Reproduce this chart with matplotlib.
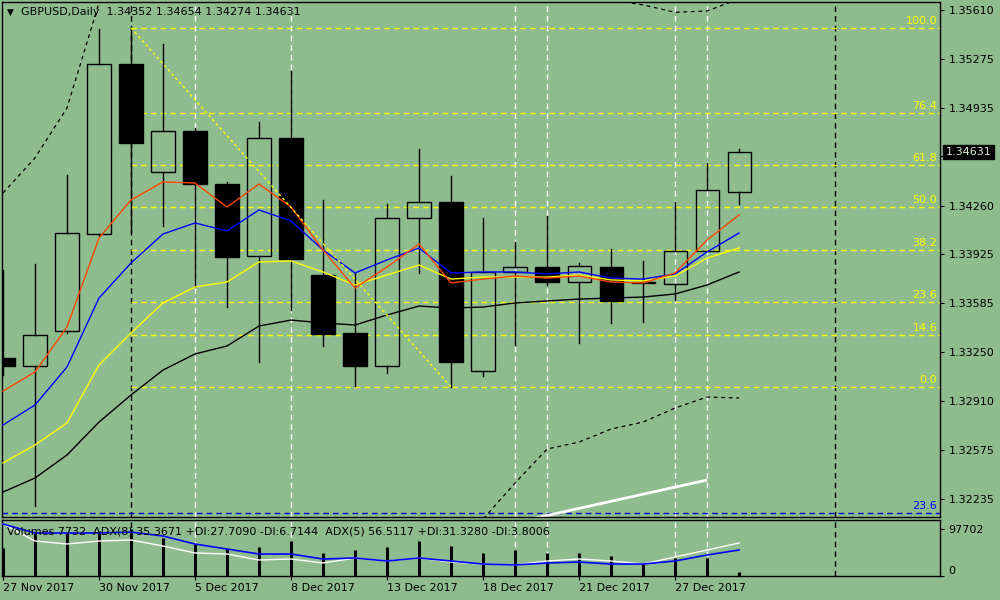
import matplotlib
matplotlib.use('Agg')
import matplotlib.pyplot as plt
import numpy as np
import pandas as pd
from matplotlib.patches import Rectangle
from matplotlib.transforms import blended_transform_factory

nan = np.nan

# ---------------- data ----------------
dates = ['2017-11-27', '2017-11-28', '2017-11-29', '2017-11-30', '2017-12-01',
         '2017-12-04', '2017-12-05', '2017-12-06', '2017-12-07', '2017-12-08',
         '2017-12-11', '2017-12-12', '2017-12-13', '2017-12-14', '2017-12-15',
         '2017-12-18', '2017-12-19', '2017-12-20', '2017-12-21', '2017-12-22',
         '2017-12-26', '2017-12-27', '2017-12-28', '2017-12-29']

opens = [1.33208, 1.33153, 1.33395, 1.34064, 1.35237, 1.34492, 1.34775, 1.34409,
         1.33912, 1.34727, 1.33781, 1.33381, 1.33153, 1.34174, 1.34285, 1.33118,
         1.33802, 1.33836, 1.33733, 1.33836, 1.33726, 1.33719, 1.33947, 1.34352]
highs = [1.33815, 1.33857, 1.34471, 1.35479, 1.35486, 1.35375, 1.34796, 1.34423,
         1.34837, 1.35189, 1.34299, 1.33795, 1.34271, 1.34651, 1.34464, 1.34174,
         1.34009, 1.34188, 1.33864, 1.33960, 1.33878, 1.34285, 1.34554, 1.34654]
lows = [1.33091, 1.32187, 1.33381, 1.34050, 1.34078, 1.34119, 1.33698, 1.33560,
        1.33181, 1.33539, 1.33291, 1.33015, 1.33105, 1.33795, 1.33008, 1.33084,
        1.33298, 1.33712, 1.33312, 1.33450, 1.33457, 1.33608, 1.33947, 1.34274]
closes = [1.33153, 1.33367, 1.34071, 1.35237, 1.34692, 1.34775, 1.34409, 1.33905,
          1.34727, 1.33891, 1.33374, 1.33153, 1.34174, 1.34285, 1.33181, 1.33802,
          1.33836, 1.33733, 1.33843, 1.33602, 1.33730, 1.33947, 1.34368, 1.34631]

ma_red = [1.32980, 1.33112, 1.33422, 1.34036, 1.34299, 1.34423, 1.34416, 1.34250,
          1.34409, 1.34250, 1.33954, 1.33691, 1.33836, 1.33995, 1.33726, 1.33753,
          1.33774, 1.33760, 1.33774, 1.33733, 1.33726, 1.33795, 1.34023, 1.34195]
ma_blue = [1.32746, 1.32884, 1.33146, 1.33622, 1.33864, 1.34064, 1.34140, 1.34085,
           1.34230, 1.34154, 1.33954, 1.33795, 1.33885, 1.33967, 1.33795, 1.33802,
           1.33802, 1.33788, 1.33802, 1.33760, 1.33753, 1.33788, 1.33940, 1.34071]
ma_yellow = [1.32484, 1.32608, 1.32760, 1.33160, 1.33381, 1.33588, 1.33698, 1.33733,
             1.33871, 1.33878, 1.33802, 1.33712, 1.33781, 1.33850, 1.33753, 1.33767,
             1.33767, 1.33767, 1.33781, 1.33747, 1.33740, 1.33774, 1.33898, 1.33967]
ma_black = [1.32283, 1.32380, 1.32539, 1.32766, 1.32953, 1.33125, 1.33236, 1.33291,
            1.33429, 1.33470, 1.33450, 1.33436, 1.33505, 1.33567, 1.33553, 1.33560,
            1.33588, 1.33602, 1.33615, 1.33622, 1.33629, 1.33650, 1.33712, 1.33802]

band_upper = [1.34347, 1.34589, 1.34934, 1.35658, 1.36093, nan, nan, nan, nan, nan,
              nan, nan, nan, nan, nan, nan, nan, nan, 1.35886, 1.35679, 1.35645,
              1.35594, 1.35603, 1.35686]
band_lower = [nan, nan, nan, nan, nan, nan, nan, nan, nan, nan, nan, nan, nan, nan,
              1.31814, 1.32097, 1.32345, 1.32580, 1.32628, 1.32718, 1.32766, 1.32863,
              1.32939, 1.32932]

volumes = [59000, 89390, 89390, 93550, 97702, 79000, 66520, 58200, 60290, 72760,
           47810, 54050, 60290, 72760, 62360, 47810, 54050, 47810, 47810, 41580,
           24950, 37420, 37420, 7732]
adx_blue = [70.7, 58.5, 58.5, 58.5, 59.8, 54.4, 43.5, 36.7, 29.9, 29.9, 23.1, 24.5,
            20.4, 24.5, 20.4, 16.3, 15.0, 17.7, 19.0, 16.3, 16.3, 20.4, 28.6, 35.4]
adx_white = [89.0, 59.9, 54.8, 59.9, 61.6, 51.4, 39.4, 37.7, 27.4, 29.1, 22.3, 30.8,
             25.7, 30.8, 24.0, 20.5, 18.8, 25.7, 29.1, 25.7, 20.5, 32.5, 44.5, 56.5]

fib_levels = [0.0, 14.6, 23.6, 38.2, 50.0, 61.8, 76.4, 100.0]
fib_start_bar = 4
fib_end_bar = 14
blue_level_price = 1.32138
blue_level_label = '23.6'

trend_x = [16.5, 22.0]
trend_y = [1.32097, 1.32366]

white_vlines = [6, 9, 16, 17, 21, 22]
black_vlines = [4, 26]

price_ticks = [1.35610, 1.35275, 1.34935, 1.34600, 1.34260, 1.33925, 1.33585,
               1.33250, 1.32910, 1.32575, 1.32235]
vol_ticks = [0, 97702]

header = 'GBPUSD,Daily  1.34352 1.34654 1.34274 1.34631'
sub_label = ('Volumes 7732  ADX(8) 35.3671 +DI:27.7090 -DI:6.7144  '
             'ADX(5) 56.5117 +DI:31.3280 -DI:3.8006')
bid_price = 1.34631

# ---------------- figure ----------------
bg = '#8FBC8F'
plt.rcParams['font.family'] = ['DejaVu Sans']
fig = plt.figure(figsize=(10, 6), dpi=100, facecolor=bg)

ax = fig.add_axes([0.002, 83 / 600, 0.938, 515 / 600])
ax2 = fig.add_axes([0.002, 24 / 600, 0.938, 56 / 600])
for a in (ax, ax2):
    a.set_facecolor(bg)
    for s in a.spines.values():
        s.set_color('black')
        s.set_linewidth(1)

n = len(opens)
x = np.arange(n)
xlim = (-0.031, 29.28)
ax.set_xlim(*xlim)
ax.set_ylim(1.32111, 1.35665)

# vertical lines
for v in white_vlines:
    ax.axvline(v, color='white', lw=1, ls=(0, (4, 3)), zorder=1)
    ax2.axvline(v, color='white', lw=1, ls=(0, (4, 3)), zorder=1)
for v in black_vlines:
    ax.axvline(v, color='black', lw=1, ls=(0, (4, 3)), zorder=1)
    ax2.axvline(v, color='black', lw=1, ls=(0, (4, 3)), zorder=1)

# fibonacci
fib_hi = highs[fib_start_bar]
fib_lo = lows[fib_end_bar]
for lv in fib_levels:
    p = fib_lo + lv / 100.0 * (fib_hi - fib_lo)
    ax.plot([fib_start_bar, xlim[1]], [p, p], color='#FFFF00', lw=1,
            ls=(0, (4, 3)), zorder=1)
    ax.annotate(f'{lv:.1f}', xy=(1.0, p), xycoords=('axes fraction', 'data'),
                xytext=(-2, 1.5), textcoords='offset points', ha='right',
                va='bottom', color='#FFFF00', fontsize=8, zorder=2)
ax.plot([fib_start_bar, fib_end_bar], [fib_hi, fib_lo], color='#FFFF00', lw=1,
        ls=(0, (2, 2)), zorder=5)
ax.axhline(blue_level_price, color='#0000CC', lw=1, ls=(0, (4, 3)), zorder=1)
ax.annotate(blue_level_label, xy=(1.0, blue_level_price),
            xycoords=('axes fraction', 'data'), xytext=(-2, 1.5),
            textcoords='offset points', ha='right', va='bottom', color='#0000FF',
            fontsize=8, zorder=2)

# bollinger-type bands
ax.plot(x, band_upper, color='black', lw=0.9, ls=(0, (3, 3)), zorder=2)
ax.plot(x, band_lower, color='black', lw=0.9, ls=(0, (3, 3)), zorder=2)

# trend line
ax.plot(trend_x, trend_y, color='white', lw=2, zorder=2, solid_capstyle='butt')

# candles
w = 0.72
for i in range(n):
    o, h, l, c = opens[i], highs[i], lows[i], closes[i]
    top, bot = max(o, c), min(o, c)
    ax.plot([i, i], [top, h], color='black', lw=1, zorder=3)
    ax.plot([i, i], [l, bot], color='black', lw=1, zorder=3)
    if c >= o:
        ax.add_patch(Rectangle((i - w / 2, bot), w, max(top - bot, 1e-6),
                               fill=False, ec='black', lw=1, zorder=3))
    else:
        ax.add_patch(Rectangle((i - w / 2, bot), w, top - bot,
                               fc='black', ec='black', lw=1, zorder=3))

# moving averages
ax.plot(x, ma_black, color='black', lw=1, zorder=4)
ax.plot(x, ma_yellow, color='#FFFF00', lw=1, zorder=4)
ax.plot(x, ma_blue, color='#0000FF', lw=1, zorder=4)
ax.plot(x, ma_red, color='#FF4500', lw=1, zorder=4)

# price axis
ax.yaxis.tick_right()
ax.set_yticks(price_ticks)
ax.set_yticklabels([f'{p:.5f}' for p in price_ticks])
ax.tick_params(axis='y', direction='out', length=3, pad=3, labelsize=8,
               colors='black')
ax.set_xticks([])

# bid label
ax.annotate(f'{bid_price:.5f}', xy=(1.0, bid_price),
            xycoords=('axes fraction', 'data'), xytext=(4, 0),
            textcoords='offset points', ha='left', va='center', fontsize=8,
            color='#D4EED4', annotation_clip=False, zorder=10,
            bbox=dict(boxstyle='square,pad=0.2', fc='black', ec='black'))

# header
fig.text(7 / 1000, 1 - 12 / 600, '\u25bc', fontsize=6.5, va='center', ha='left',
         color='black')
fig.text(21 / 1000, 1 - 12 / 600, header, fontsize=8, va='center', ha='left',
         color='black')

# ---------------- sub panel ----------------
ax2.set_xlim(*xlim)
ax2.set_ylim(0, 116413)
ax2.vlines(x, 0, volumes, color='black', lw=2.2, zorder=3)

axw = ax2.twinx()
axw.set_ylim(0, 95.9)
axb = ax2.twinx()
axb.set_ylim(0, 76.2)
for a in (axw, axb):
    a.set_xlim(*xlim)
    a.axis('off')
axw.plot(x, adx_white, color='white', lw=1, zorder=4)
axb.plot(x, adx_blue, color='#0000FF', lw=1.2, zorder=4)

ax2.yaxis.tick_right()
ax2.set_yticks(vol_ticks)
ax2.set_yticklabels([str(v) for v in vol_ticks])
ax2.tick_params(axis='y', direction='out', length=3, pad=3, labelsize=8)
ax2.get_yticklabels()[0].set_va('bottom')

tick_idx = list(range(0, n, 3))
lab = []
for i in tick_idx:
    d = pd.Timestamp(dates[i])
    lab.append(f"{d.day} {d.strftime('%b %Y')}")
ax2.set_xticks(tick_idx)
ax2.set_xticklabels(lab)
for t in ax2.get_xticklabels():
    t.set_ha('left')
ax2.tick_params(axis='x', direction='out', length=3, pad=2, labelsize=8)

fig.text(7 / 1000, 1 - 531 / 600, sub_label, fontsize=8, va='center', ha='left',
         color='black', zorder=10)

fig.savefig('out.png', dpi=100, facecolor=bg)
